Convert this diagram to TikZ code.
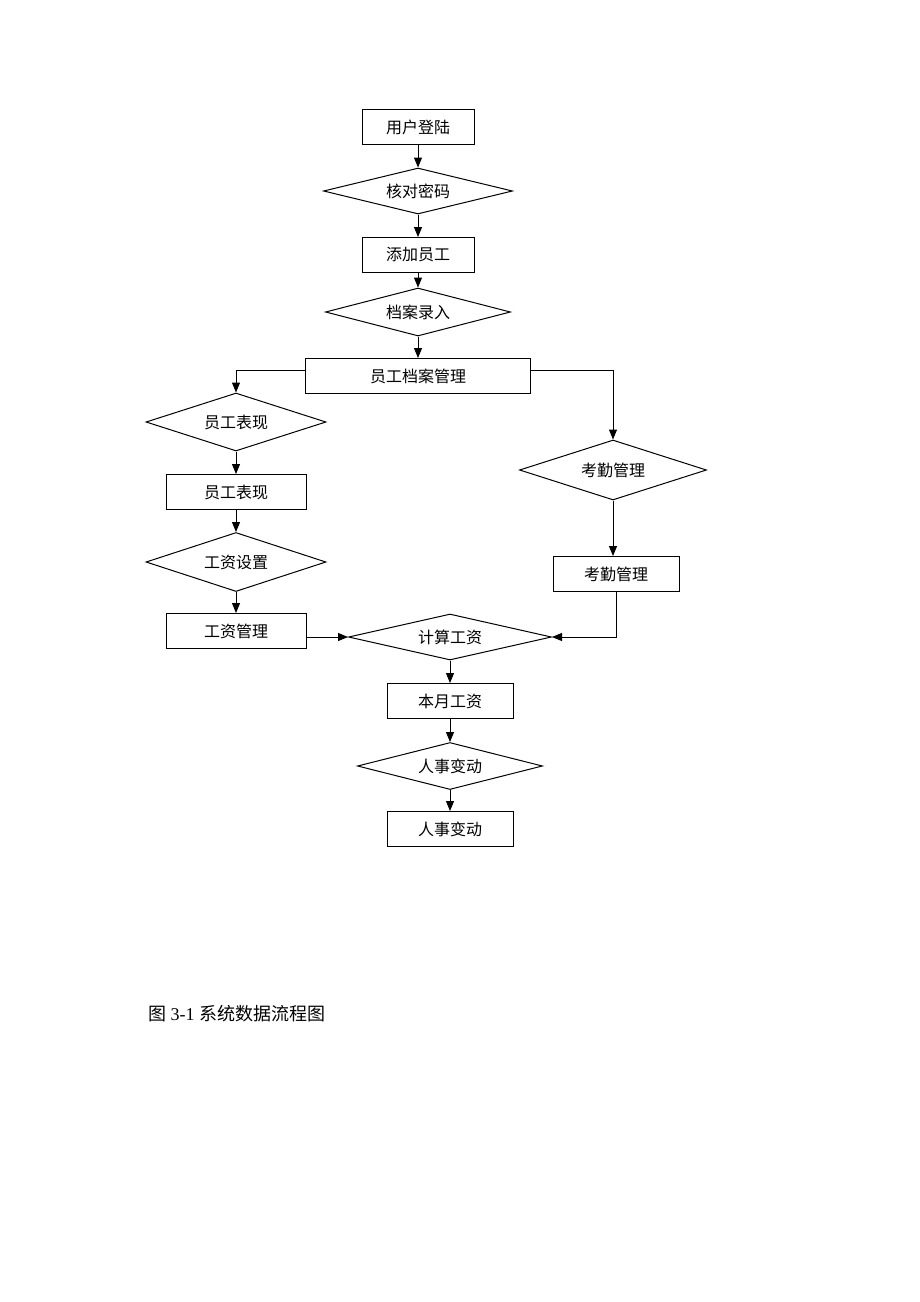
\documentclass[tikz,border=0pt]{standalone}
\usepackage{fontspec}
\setmainfont{Liberation Serif}
\newfontfamily\cjk{Noto Sans CJK SC}
\usepackage{tikz}
\usetikzlibrary{calc}
\usetikzlibrary{arrows.meta}
\usetikzlibrary{shapes.geometric}

\tikzset{
	procbox/.style={draw, rectangle, line width=1pt, minimum height=35pt, inner sep=0pt, font=\cjk\fontsize{16}{18}\selectfont},
	decide/.style={draw, diamond, aspect=4, line width=1pt, inner sep=0pt, font=\cjk\fontsize{16}{18}\selectfont},
	flow/.style={line width=1pt, -{Triangle[length=10pt,width=8pt]}}
}

\begin{document}
\begin{tikzpicture}[x=1pt,y=-1pt]
				\useasboundingbox[fill=white] (0,0) rectangle (920,1302);
				
				% main column
				\node[procbox, minimum width=112pt] (login) at (418,127) {用户登陆};
				\node[decide, minimum width=189pt, minimum height=46pt] (checkpw) at (418,191) {核对密码};
				\node[procbox, minimum width=112pt] (addemp) at (418,255) {添加员工};
				\node[decide, minimum width=185pt, minimum height=48pt] (archin) at (418,312) {档案录入};
				\node[procbox, minimum width=225pt] (archmgr) at (418,376) {员工档案管理};
				
				% left branch
				\node[decide, minimum width=180pt, minimum height=58pt] (perfdec) at (236,422) {员工表现};
				\node[procbox, minimum width=140pt] (perfbox) at (236,492) {员工表现};
				\node[decide, minimum width=180pt, minimum height=59pt] (saldec) at (236,562) {工资设置};
				\node[procbox, minimum width=140pt] (salmgr) at (236,631) {工资管理};
				
				% right branch
				\node[decide, minimum width=187pt, minimum height=60pt] (attdec) at (613,470) {考勤管理};
				\node[procbox, minimum width=126pt] (attbox) at (616,574) {考勤管理};
				
				% bottom column
				\node[decide, minimum width=203pt, minimum height=46pt] (calcpay) at (450,637) {计算工资};
				\node[procbox, minimum width=126pt] (monthpay) at (450,701) {本月工资};
				\node[decide, minimum width=185pt, minimum height=47pt] (hrdec) at (450,766) {人事变动};
				\node[procbox, minimum width=126pt] (hrbox) at (450,829) {人事变动};
				
				\node[anchor=west, inner sep=0pt, font=\fontsize{18}{21}\selectfont] (caption) at (148,1014) {{\cjk 图} 3-1 {\cjk 系统数据流程图}};
				
				\draw[flow] (login) -- (checkpw);
				\draw[flow] (checkpw) -- (addemp);
				\draw[flow] (addemp) -- (archin);
				\draw[flow] (archin) -- (archmgr);
				
				\draw[flow] ($(archmgr.west)+(0,-6)$) -| (perfdec.north);
				\draw[flow] ($(archmgr.east)+(0,-6)$) -| (attdec.north);
				
				\draw[flow] (perfdec) -- (perfbox);
				\draw[flow] (perfbox) -- (saldec);
				\draw[flow] (saldec) -- (salmgr);
				\draw[flow] (salmgr.east |- calcpay.west) -- (calcpay.west);
				
				\draw[flow] (attdec.south) -- (attdec.south |- attbox.north);
				\draw[flow] (attbox.south) |- (calcpay.east);
				
				\draw[flow] (calcpay) -- (monthpay);
				\draw[flow] (monthpay) -- (hrdec);
				\draw[flow] (hrdec) -- (hrbox);
			\end{tikzpicture}
\end{document}
